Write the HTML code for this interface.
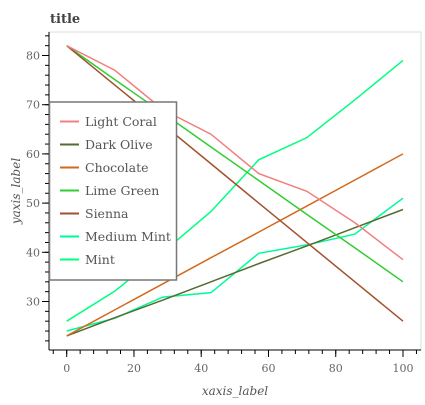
<!DOCTYPE html>
<html><head><meta charset="utf-8"><style>
body{margin:0;background:#fff;}
svg text{font-family:"DejaVu Serif","Liberation Serif",serif;}
</style></head><body>
<svg id="chart" width="425" height="400" xmlns="http://www.w3.org/2000/svg">
<text x="50" y="23" font-size="13" font-weight="bold" fill="#444">title</text>
<rect x="49" y="32" width="372" height="318" fill="none" stroke="#ddd"/>
<g id="series"></g>
<g id="axes"></g>
<g id="legend"></g>
</svg>
<script>
const xs=[0,14.3,28.6,42.9,57.1,71.4,85.7,100];
const seriesNames=["Light Coral","Dark Olive","Chocolate","Lime Green","Sienna","Medium Mint","Mint"];
const seriesColors=["#F08080","#556B2F","#D2691E","#32CD32","#A0522D","#00FA9A","#00FF7F"];
const lightCoral=[82,77,69,64,56,52.4,46,38.5];
const darkOlive=[23,26.7,30.3,34,37.7,41.3,45,48.7];
const chocolate=[23,28.3,33.6,38.9,44.1,49.4,54.7,60];
const limeGreen=[82,75.1,68.3,61.4,54.6,47.7,40.9,34];
const sienna=[82,74,66,58,50,42,34,26];
const mediumMint=[24,26.6,30.9,31.8,39.8,41.5,43.7,51];
const mint=[26,32.1,40,48.3,58.8,63.3,71,79];
const seriesValues=[lightCoral,darkOlive,chocolate,limeGreen,sienna,mediumMint,mint];
const xTicks=[0,20,40,60,80,100];
const yTicks=[30,40,50,60,70,80];
const NS="http://www.w3.org/2000/svg";
const X=v=>66.7+v*3.363;
const Y=v=>55.5+(80-v)*4.92;
function mk(tag,attrs,parent){const e=document.createElementNS(NS,tag);for(const k in attrs)e.setAttribute(k,attrs[k]);parent.appendChild(e);return e;}
const sg=document.getElementById('series');
const drawOrder=[6,5,1,2,3,4,0];
drawOrder.forEach(i=>{
 const vals=seriesValues[i];
 const p=mk('polyline',{points:vals.map((v,j)=>X(xs[j])+","+Y(v)).join(" "),fill:"none",stroke:seriesColors[i],"stroke-width":"1.5"},sg);
 
 
});
const ag=document.getElementById('axes');
const ya=mk('line',{x1:49,y1:32,x2:49,y2:350,stroke:"#000"},ag);


const xa=mk('line',{x1:49,y1:350,x2:421,y2:350,stroke:"#000"},ag);


for(let v=22;v<=84;v+=2){mk('line',{x1:45,x2:49,y1:Y(v),y2:Y(v),stroke:"#000"},ag);}
yTicks.forEach(v=>{mk('line',{x1:42,x2:49,y1:Y(v),y2:Y(v),stroke:"#000"},ag);
 const t=mk('text',{x:40,y:Y(v)+4,"text-anchor":"end","font-size":"11",fill:"#666"},ag);t.textContent=v;
 
 });
for(let v=-4;v<=104;v+=4){mk('line',{x1:X(v),x2:X(v),y1:350,y2:354,stroke:"#000"},ag);}
xTicks.forEach(v=>{mk('line',{x1:X(v),x2:X(v),y1:350,y2:357,stroke:"#000"},ag);
 const t=mk('text',{x:X(v),y:372,"text-anchor":"middle","font-size":"11",fill:"#666"},ag);t.textContent=v;
 
 });
const xl=mk('text',{x:235,y:395,"text-anchor":"middle","font-size":"12","font-style":"italic",fill:"#555"},ag);xl.textContent="xaxis_label";


const yl=mk('text',{x:0,y:0,"text-anchor":"middle","font-size":"12","font-style":"italic",fill:"#555",transform:"translate(20,191) rotate(-90)"},ag);yl.textContent="yaxis_label";


const lg=document.getElementById('legend');
const box=mk('rect',{x:49.5,y:102,width:127,height:178,fill:"#fff",stroke:"#777","stroke-width":"1.5"},lg);


seriesNames.forEach((n,i)=>{const y=121.5+i*23;
 const g=mk('g',{},lg);
 
 
 mk('line',{x1:60,x2:79,y1:y,y2:y,stroke:seriesColors[i],"stroke-width":"2"},g);
 const t=mk('text',{x:85,y:y+4.5,"font-size":"12.5",fill:"#555"},g);t.textContent=n;});
</script>
</body></html>
